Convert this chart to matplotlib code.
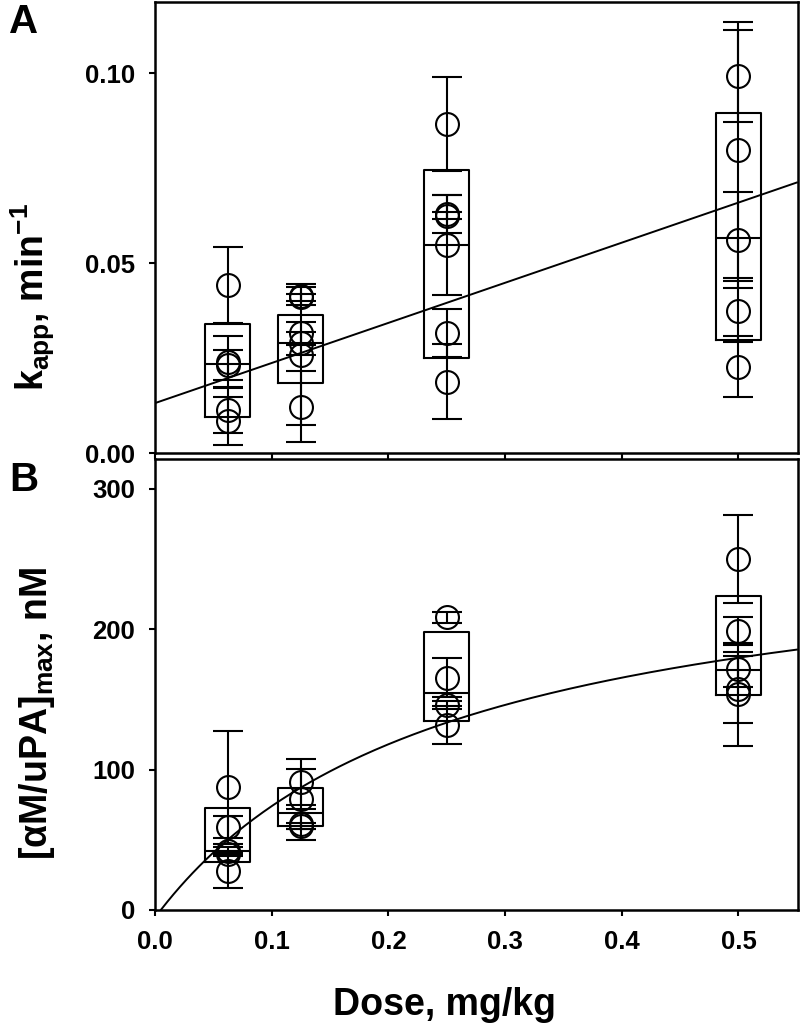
import numpy as np
import matplotlib
matplotlib.use("Agg")
import matplotlib.pyplot as plt

plt.rcParams["font.family"] = ["Liberation Sans", "DejaVu Sans"]
plt.rcParams["font.weight"] = "bold"
plt.rcParams["mathtext.fontset"] = "custom"
plt.rcParams["mathtext.rm"] = "Liberation Sans:bold"
plt.rcParams["mathtext.it"] = "Liberation Sans:bold"
plt.rcParams["mathtext.bf"] = "Liberation Sans:bold"

# doses (mg/kg)
dose = [0.0625, 0.125, 0.25, 0.5]

# panel A: kapp per animal, with sd
kapp = [
    [0.0443, 0.0240, 0.0233, 0.0114, 0.0085],
    [0.0414, 0.0410, 0.0316, 0.0289, 0.0259, 0.0123],
    [0.0867, 0.0630, 0.0625, 0.0548, 0.0316, 0.0188],
    [0.0993, 0.0798, 0.0561, 0.0373, 0.0228],
]
kapp_err = [
    [0.0100, 0.0068, 0.0040, 0.0060, 0.0063],
    [0.0024, 0.0010, 0.0030, 0.0030, 0.0185, 0.0093],
    [0.0124, 0.0050, 0.0010, 0.0131, 0.0063, 0.0099],
    [0.0121, 0.0337, 0.0125, 0.0080, 0.0081],
]
kapp_q1 = [0.0096, 0.0186, 0.0250, 0.0298]
kapp_med = [0.0234, 0.0289, 0.0548, 0.0567]
kapp_q3 = [0.0340, 0.0364, 0.0744, 0.0895]
kapp_intercept = 0.0132
kapp_slope = 0.1055

# panel B: [aM/uPA]max per animal, with sd
amax = [
    [87.4, 59.1, 41.8, 40.2, 27.9],
    [91.0, 79.2, 61.0, 59.6],
    [208.5, 165.5, 146.1, 131.9],
    [250.1, 198.6, 171.4, 157.2, 153.7],
]
amax_err = [
    [40.3, 7.5, 3.0, 2.0, 12.5],
    [16.3, 21.3, 10.9, 2.0],
    [4.0, 13.7, 3.0, 13.7],
    [31.2, 10.0, 12.5, 23.7, 36.7],
]
amax_q1 = [34.3, 59.6, 134.8, 153.0]
amax_med = [41.8, 69.3, 154.8, 170.7]
amax_q3 = [72.8, 87.0, 197.9, 223.9]
# hyperbolic fit  y = Bmax (x-x0) / (K + x - x0)
fit_bmax = 272.0
fit_k = 0.2545
fit_x0 = 0.005

fig = plt.figure(figsize=(8.0, 10.23), dpi=100)
axA = fig.add_axes([0.19375, 0.5569, 0.80375, 0.4415])
axB = fig.add_axes([0.19375, 0.1105, 0.80375, 0.4406])

lw = 1.5


def draw_group(ax, vals, errs, q1, med, q3):
    stats = []
    for a, b, c in zip(q1, med, q3):
        stats.append(dict(med=b, q1=a, q3=c, whislo=a, whishi=c, fliers=[]))
    ax.bxp(stats, positions=dose, widths=0.0386, showcaps=False,
           showfliers=False, manage_ticks=False,
           boxprops=dict(color="k", lw=lw),
           whiskerprops=dict(color="k", lw=lw),
           medianprops=dict(color="k", lw=lw))
    for d, v, e in zip(dose, vals, errs):
        ax.errorbar([d] * len(v), v, yerr=e, fmt="o", mfc="none", mec="k",
                    mew=lw, ms=16.5, ecolor="k", elinewidth=lw, capsize=10.5,
                    capthick=lw)


draw_group(axA, kapp, kapp_err, kapp_q1, kapp_med, kapp_q3)
xa = np.array([0.0, 0.55])
axA.plot(xa, kapp_intercept + kapp_slope * xa, color="k", lw=1.4)

draw_group(axB, amax, amax_err, amax_q1, amax_med, amax_q3)
xb = np.linspace(fit_x0, 0.55, 200)
axB.plot(xb, fit_bmax * (xb - fit_x0) / (fit_k + xb - fit_x0), color="k", lw=1.4)

for ax in (axA, axB):
    ax.set_xlim(0, 0.551)
    ax.set_xticks([0.0, 0.1, 0.2, 0.3, 0.4, 0.5])
    ax.tick_params(direction="out", length=4.5, width=1.5, labelsize=18.5, pad=10)
    for s in ax.spines.values():
        s.set_linewidth(1.8)

axA.set_ylim(0, 0.1188)
axA.set_yticks([0.0, 0.05, 0.10])
axA.set_yticklabels(["0.00", "0.05", "0.10"])
axA.tick_params(axis="x", labelbottom=False)

axB.set_ylim(0, 321)
axB.set_yticks([0, 100, 200, 300])
axB.set_xticklabels(["0.0", "0.1", "0.2", "0.3", "0.4", "0.5"])

axA.set_ylabel(r"k$_{app}$, min$^{-1}$", fontsize=27, fontweight="bold")
axA.yaxis.set_label_coords(-0.152, 0.346)
axB.set_ylabel(r"[αM/uPA]$_{max}$, nM", fontsize=27, fontweight="bold")
axB.yaxis.set_label_coords(-0.152, 0.437)
axB.set_xlabel("Dose, mg/kg", fontsize=27, fontweight="bold")
axB.xaxis.set_label_coords(0.45, -0.17)

fig.text(0.011, 0.997, "A", fontsize=29, fontweight="bold", va="top", ha="left")
fig.text(0.011, 0.549, "B", fontsize=29, fontweight="bold", va="top", ha="left")

fig.savefig("out.png", dpi=100)
